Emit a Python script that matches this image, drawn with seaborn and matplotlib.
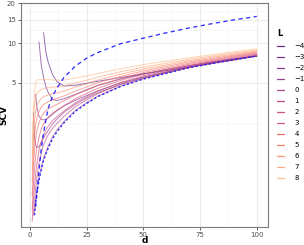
import numpy as np
import pandas as pd
import matplotlib
matplotlib.use("Agg")
import matplotlib.pyplot as plt
import seaborn as sns

nan = np.nan

# valores de d (eje x)
d = [1, 1.5, 2, 2.5, 3, 4, 5, 6, 7, 8, 10, 12, 15, 20, 25, 30, 40, 50, 60, 70, 80, 90, 100]

# SCV para cada L
scv_m4 = [nan, nan, nan, nan, nan, nan, nan, 12.0, 8.6, 7.2, 5.75, 5.1, 4.74, 4.8, 4.97, 5.15, 5.5, 5.85, 6.2, 6.6, 7.0, 7.45, 7.96]
scv_m3 = [nan, nan, nan, nan, nan, 10.2, 6.8, 5.5, 4.7, 4.25, 3.75, 3.68, 3.8, 4.1, 4.45, 4.8, 5.35, 5.85, 6.3, 6.75, 7.2, 7.6, 7.98]
scv_m2 = [nan, nan, nan, 4.1, 3.3, 2.8, 2.65, 2.63, 2.65, 2.72, 2.9, 3.1, 3.35, 3.7, 4.02, 4.35, 5.0, 5.55, 6.05, 6.6, 7.1, 7.55, 7.98]
scv_m1 = [nan, 3.0, 1.95, 1.7, 1.62, 1.65, 1.78, 1.92, 2.05, 2.18, 2.45, 2.68, 3.0, 3.45, 3.85, 4.22, 4.88, 5.45, 5.98, 6.55, 7.05, 7.52, 8.0]
scv_0 = [nan, nan, 0.52, 0.64, 0.75, 0.96, 1.15, 1.35, 1.5, 1.66, 1.97, 2.21, 2.55, 3.1, 3.54, 3.99, 4.73, 5.38, 5.93, 6.53, 7.02, 7.52, 8.02]
scv_1 = [nan, 0.5, 0.62, 0.8, 0.95, 1.25, 1.48, 1.7, 1.88, 2.02, 2.27, 2.48, 2.8, 3.31, 3.73, 4.16, 4.88, 5.51, 6.05, 6.64, 7.13, 7.62, 8.12]
scv_2 = [0.45, 0.65, 0.82, 1.02, 1.2, 1.55, 1.8, 2.02, 2.2, 2.35, 2.6, 2.79, 3.07, 3.54, 3.94, 4.35, 5.05, 5.66, 6.19, 6.76, 7.25, 7.73, 8.22]
scv_3 = [0.55, 0.85, 1.1, 1.38, 1.6, 1.95, 2.25, 2.45, 2.62, 2.75, 2.96, 3.12, 3.37, 3.8, 4.17, 4.56, 5.23, 5.82, 6.34, 6.9, 7.37, 7.86, 8.34]
scv_4 = [0.7, 1.15, 1.55, 1.9, 2.15, 2.5, 2.78, 2.95, 3.08, 3.18, 3.33, 3.45, 3.67, 4.06, 4.4, 4.78, 5.41, 5.99, 6.48, 7.04, 7.5, 7.98, 8.45]
scv_5 = [0.9, 1.5, 2.0, 2.4, 2.7, 3.05, 3.28, 3.43, 3.53, 3.6, 3.73, 3.82, 3.99, 4.34, 4.66, 5.01, 5.61, 6.16, 6.65, 7.19, 7.64, 8.11, 8.58]
scv_6 = [1.1, 1.9, 2.6, 3.05, 3.35, 3.65, 3.82, 3.92, 4.0, 4.06, 4.16, 4.21, 4.34, 4.65, 4.93, 5.26, 5.83, 6.36, 6.82, 7.35, 7.8, 8.25, 8.71]
scv_7 = [1.4, 2.5, 3.4, 3.9, 4.15, 4.35, 4.45, 4.52, 4.57, 4.6, 4.66, 4.66, 4.75, 5.0, 5.24, 5.54, 6.08, 6.58, 7.03, 7.54, 7.97, 8.42, 8.87]
scv_8 = [1.75, 3.2, 4.4, 5.0, 5.25, 5.3, 5.3, 5.3, 5.3, 5.3, 5.28, 5.25, 5.25, 5.45, 5.65, 5.9, 6.4, 6.88, 7.3, 7.75, 8.17, 8.61, 9.05]

# curvas de referencia en azul
ref_dashed = [nan, nan, nan, 0.58, 0.72, 1.1, 1.6, 2.1, 2.6, 3.2, 4.0, 4.6, 5.5, 6.7, 7.7, 8.5, 9.9, 10.9, 11.95, 13.0, 14.0, 15.0, 15.9]
ref_dotted = [nan, nan, 0.5, 0.62, 0.72, 0.92, 1.1, 1.3, 1.45, 1.6, 1.9, 2.15, 2.5, 3.05, 3.5, 3.95, 4.7, 5.35, 5.9, 6.5, 7.0, 7.5, 8.0]

L_labels = ["\u22124", "\u22123", "\u22122", "\u22121", "0", "1", "2", "3", "4", "5", "6", "7", "8"]
series = [scv_m4, scv_m3, scv_m2, scv_m1, scv_0, scv_1, scv_2, scv_3, scv_4, scv_5, scv_6, scv_7, scv_8]

filas = []
for lab, vals in zip(L_labels, series):
    for x, y in zip(d, vals):
        filas.append({"d": x, "SCV": y, "L": lab})
df = pd.DataFrame(filas).dropna()

df_ref = pd.DataFrame({"d": d, "dashed": ref_dashed, "dotted": ref_dotted})

sns.set_theme(style="white")
plt.rcParams["font.family"] = ["DejaVu Sans"]
plt.rcParams["text.color"] = "black"

colores = sns.color_palette("magma", as_cmap=True)(np.linspace(0.25, 0.85, len(L_labels)))

fig = plt.figure(figsize=(3.04, 2.45), dpi=100)
ax = fig.add_axes([21 / 304, 1 - 226.7 / 245, 247 / 304, 224 / 245])

sns.lineplot(data=df, x="d", y="SCV", hue="L", hue_order=L_labels, palette=list(colores),
             estimator=None, linewidth=0.7, alpha=0.6, ax=ax, legend=True)
sns.lineplot(data=df_ref.dropna(subset=["dashed"]), x="d", y="dashed", color="#1a1aff",
             linewidth=0.95, ax=ax, dashes=False, linestyle=(0, (3.2, 2.6)), alpha=0.9)
sns.lineplot(data=df_ref.dropna(subset=["dotted"]), x="d", y="dotted", color="#1a1aff",
             linewidth=1.0, ax=ax, dashes=False, linestyle=(0, (1.6, 1.6)), alpha=0.9)

ax.set_yscale("log")
ax.set_xlim(-3.95, 104.95)
ax.set_ylim(0.41, 20.2)
ax.set_xticks([0, 25, 50, 75, 100])
ax.set_xticklabels(["0", "25", "50", "75", "100"])
ax.set_xticks([12.5, 37.5, 62.5, 87.5], minor=True)
ax.set_yticks([5, 10, 15, 20])
ax.set_yticklabels(["5", "10", "15", "20"])
ax.set_yticks([2.5, 7.5, 12.5, 17.5], minor=True)
ax.set_yticklabels([], minor=True)

ax.grid(which="major", color="#ebebeb", linewidth=0.8)
ax.grid(which="minor", color="#f4f4f4", linewidth=0.5)
ax.set_axisbelow(True)
for s in ax.spines.values():
    s.set_color("#7a7a7a")
    s.set_linewidth(0.8)

ax.tick_params(which="major", length=2.2, width=0.6, color="#444444", labelsize=5,
               labelcolor="#4d4d4d", pad=1.5, bottom=True, left=True)
ax.tick_params(which="minor", length=0)

ax.set_xlabel("d", fontsize=6.5, fontweight="bold", color="black")
ax.set_ylabel("SCV", fontsize=6.5, fontweight="bold", color="black")
ax.xaxis.set_label_coords(0.5, -0.043)
ax.yaxis.set_label_coords(-0.052, 0.5)

handles, labels = ax.get_legend_handles_labels()
ax.get_legend().remove()
handles = handles[:len(L_labels)]
labels = labels[:len(L_labels)]
leg = fig.legend(handles, labels, title="L", loc="upper left",
                 bbox_to_anchor=(277 / 304, 1 - 29 / 245), frameon=False,
                 fontsize=5, title_fontsize=6, handlelength=1.0, handletextpad=1.5,
                 labelspacing=0.72, borderpad=0, borderaxespad=0)
leg.get_title().set_fontweight("bold")
leg.get_title().set_color("black")
leg._legend_box.align = "left"
for t in leg.get_texts():
    t.set_color("black")
for h in leg.legend_handles:
    h.set_linewidth(0.9)
    h.set_alpha(0.9)

fig.savefig("out.png", dpi=100)
